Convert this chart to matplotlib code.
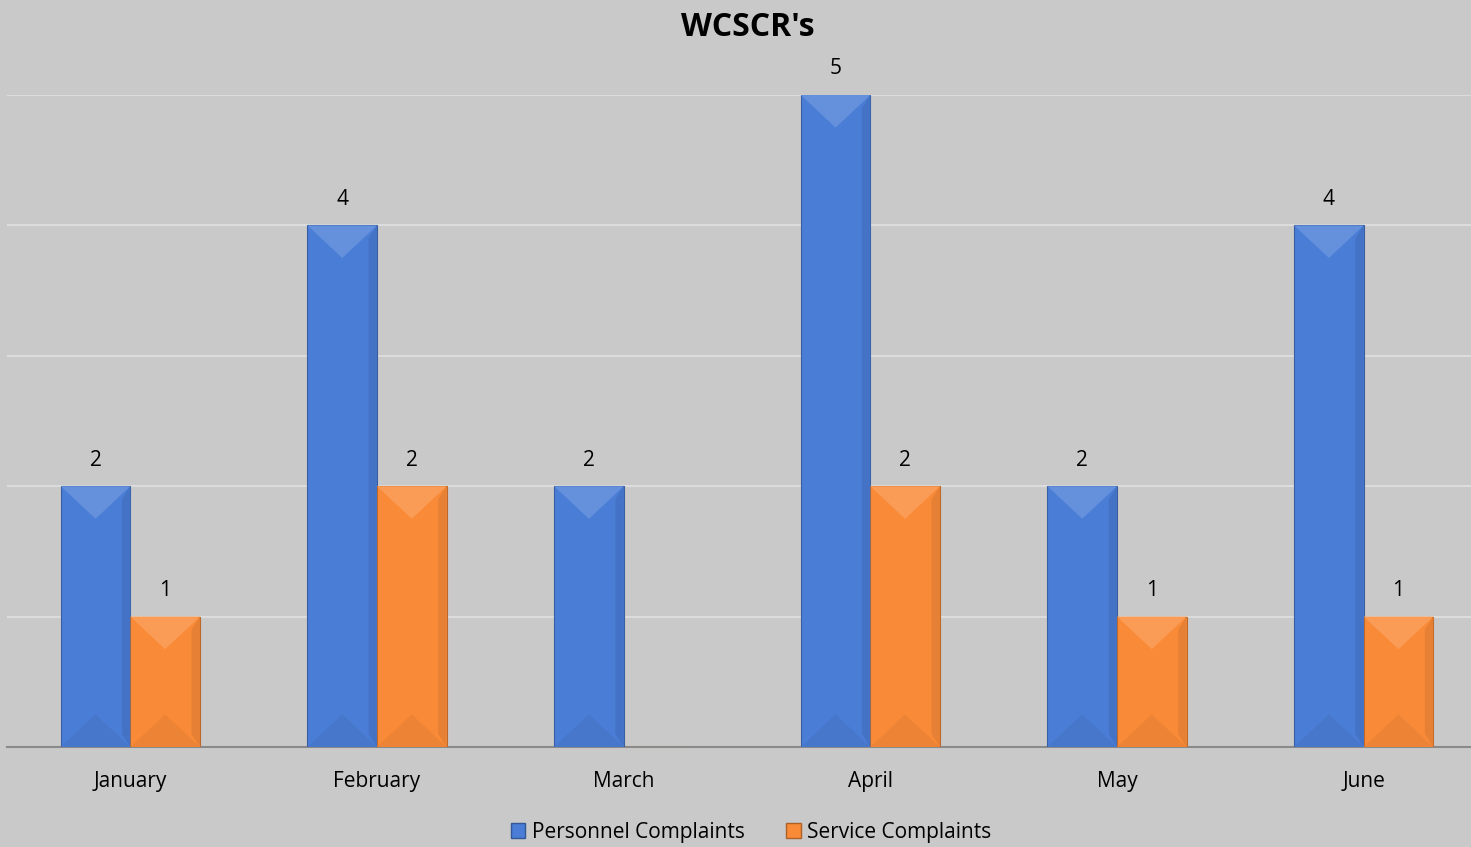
import matplotlib.pyplot as plt
import numpy as np
from matplotlib.patches import Polygon

months = ["January", "February", "March", "April", "May", "June"]
personnel = [2, 4, 2, 5, 2, 4]
service = [1, 2, 0, 2, 1, 1]

BG = "#c9c9c9"
BLUE = "#4a7dd6"
ORANGE = "#f98b38"
FONT = ["Open Sans", "DejaVu Sans"]


def shade(color, f):
    c = np.array(plt.matplotlib.colors.to_rgb(color))
    if f > 0:
        c = c + (1 - c) * f
    else:
        c = c * (1 + f)
    return tuple(np.clip(c, 0, 1))


def bevel_bars(ax, xs, heights, width, color, depth):
    bars = ax.bar(xs, heights, width, color=color, edgecolor=shade(color, -0.25),
                  linewidth=0.8, zorder=3)
    for x, h in zip(xs, heights):
        if h <= 0:
            continue
        x0, x1 = x - width / 2, x + width / 2
        d = min(depth, h / 2)
        # top light triangle, bottom dark triangle, darker right side
        ax.add_patch(Polygon([(x0, h), (x1, h), (x, h - d)], closed=True,
                             facecolor=shade(color, 0.15), edgecolor="none", zorder=4))
        ax.add_patch(Polygon([(x0, 0), (x1, 0), (x, d)], closed=True,
                             facecolor=shade(color, -0.05), edgecolor="none", zorder=4))
        ax.add_patch(Polygon([(x1 - width * 0.12, d * 0.4), (x1, 0), (x1, h), (x1 - width * 0.12, h - d * 0.4)],
                             closed=True, facecolor=shade(color, -0.08), edgecolor="none", zorder=4))
    return bars


fig = plt.figure(figsize=(14.71, 8.47), dpi=100, facecolor=BG)
ax = fig.add_axes([7 / 1471, 100 / 847, 1480 / 1471, 652 / 847])
ax.set_facecolor(BG)

x = np.arange(len(months))
w = 0.282
bevel_bars(ax, x - w / 2, personnel, w, BLUE, 0.25)
bevel_bars(ax, x + w / 2, service, w, ORANGE, 0.25)

for xi, v in zip(x - w / 2, personnel):
    if v > 0:
        ax.text(xi, v + 0.2, str(v), ha="center", va="center", fontsize=15,
                family=FONT, clip_on=False)
for xi, v in zip(x + w / 2, service):
    if v > 0:
        ax.text(xi, v + 0.2, str(v), ha="center", va="center", fontsize=15,
                family=FONT, clip_on=False)

ax.set_xlim(-0.5, len(months) - 0.5)
ax.set_ylim(0, 5)
ax.set_yticks(np.arange(1, 6))
ax.yaxis.grid(True, color="#dcdcdc", linewidth=1.5, zorder=0)
ax.set_axisbelow(True)
ax.tick_params(axis="y", left=False, labelleft=False)
ax.tick_params(axis="x", length=0, pad=17)
ax.set_xticks(x)
ax.set_xticklabels(months, fontsize=15, family=FONT)
for s in ["top", "right", "left"]:
    ax.spines[s].set_visible(False)
ax.spines["bottom"].set_color("#8a8a8a")
ax.spines["bottom"].set_linewidth(1.5)

fig.text(748 / 1471, 1 - 27 / 847, "WCSCR's", ha="center", va="center",
         fontsize=23, fontweight="bold", family=FONT)

handles = [plt.Rectangle((0, 0), 1, 1, facecolor=BLUE, edgecolor=shade(BLUE, -0.3)),
           plt.Rectangle((0, 0), 1, 1, facecolor=ORANGE, edgecolor=shade(ORANGE, -0.3))]
fig.legend(handles, ["Personnel Complaints", "Service Complaints"], loc="center",
           bbox_to_anchor=(751 / 1471, 1 - 832 / 847), ncol=2, frameon=False,
           prop={"family": FONT, "size": 15}, handlelength=0.7, handleheight=0.7,
           handletextpad=0.3, columnspacing=2.0)

fig.savefig("out.png", dpi=100, facecolor=BG)
